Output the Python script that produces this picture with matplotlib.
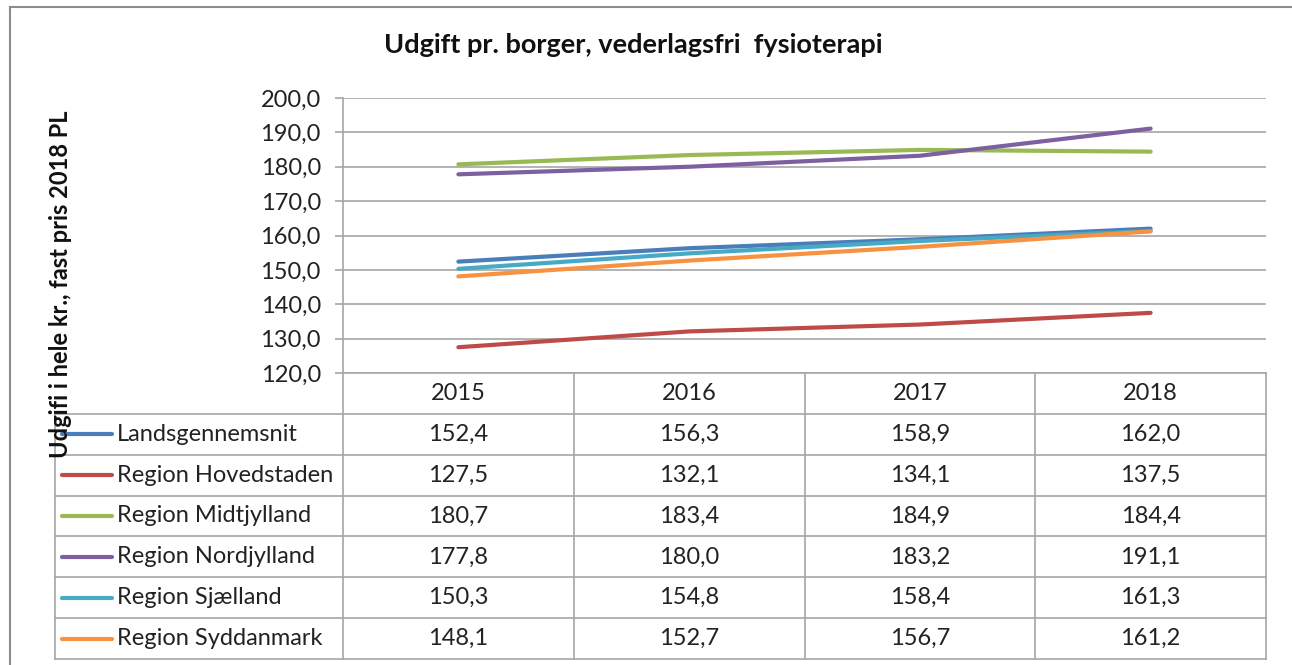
import numpy as np
import matplotlib

matplotlib.use("Agg")
import matplotlib.pyplot as plt

plt.rcParams["font.family"] = ["Lato", "DejaVu Sans"]

years = ["2015", "2016", "2017", "2018"]
regions = [
    "Landsgennemsnit",
    "Region Hovedstaden",
    "Region Midtjylland",
    "Region Nordjylland",
    "Region Sjælland",
    "Region Syddanmark",
]
landsgennemsnit = [152.4, 156.3, 158.9, 162.0]
hovedstaden = [127.5, 132.1, 134.1, 137.5]
midtjylland = [180.7, 183.4, 184.9, 184.4]
nordjylland = [177.8, 180.0, 183.2, 191.1]
sjaelland = [150.3, 154.8, 158.4, 161.3]
syddanmark = [148.1, 152.7, 156.7, 161.2]
series = [landsgennemsnit, hovedstaden, midtjylland, nordjylland, sjaelland, syddanmark]
colors = ["#4a7ebb", "#be4b48", "#98b954", "#7d60a0", "#46aac5", "#f69240"]

W, H = 1292, 665
grid_col = "#a6a6a6"
txt_col = "#222222"


def fmt(v):
    return f"{v:.1f}".replace(".", ",")


fig = plt.figure(figsize=(W / 100, H / 100), dpi=100)

# pixel overlay for frame + data table
ov = fig.add_axes([0, 0, 1, 1])
ov.set_xlim(0, W)
ov.set_ylim(H, 0)
ov.axis("off")

# plot area
px_left, px_right, px_top, px_bottom = 343, 1266, 98, 373
ax = fig.add_axes([px_left / W, 1 - px_bottom / H, (px_right - px_left) / W, (px_bottom - px_top) / H])
x = np.arange(len(years))
for vals, c in zip(series, colors):
    ax.plot(x, vals, color=c, lw=3.0, solid_capstyle="round")
ax.set_xlim(-0.5, len(years) - 0.5)
ax.set_ylim(120, 200)
ticks = np.arange(120, 201, 10)
ax.set_yticks(ticks)
ax.set_yticklabels([fmt(v) for v in ticks], fontsize=17, color=txt_col)
ax.set_xticks([])
ax.yaxis.grid(True, color=grid_col, lw=1.2)
ax.set_axisbelow(True)
ax.tick_params(axis="y", length=6, color=grid_col, width=1.2, pad=10)
for s in ["top", "right", "bottom"]:
    ax.spines[s].set_visible(False)
ax.spines["left"].set_color(grid_col)
ax.spines["left"].set_linewidth(1.2)
ax.patch.set_alpha(0)

# outer frame (top and left edges visible)
ov.plot([10, W], [7, 7], color="#8c8c8c", lw=1.5)
ov.plot([10, 10], [7, H], color="#8c8c8c", lw=1.5)

# data table
col_edges = np.linspace(px_left, px_right, len(years) + 1)
row_edges = np.linspace(px_bottom, 659, len(regions) + 2)
label_left = 55
lk = dict(color=grid_col, lw=1.2)
for yy in row_edges[1:]:
    ov.plot([label_left, px_right], [yy, yy], **lk)
ov.plot([px_left, px_right], [row_edges[0], row_edges[0]], **lk)
ov.plot([label_left, label_left], [row_edges[1], row_edges[-1]], **lk)
for xx in col_edges:
    ov.plot([xx, xx], [row_edges[0], row_edges[-1]], **lk)

col_mid = (col_edges[:-1] + col_edges[1:]) / 2
row_mid = (row_edges[:-1] + row_edges[1:]) / 2
for xm, yr in zip(col_mid, years):
    ov.text(xm, row_mid[0], yr, ha="center", va="center", fontsize=17, color=txt_col)
for i, (name, vals, c) in enumerate(zip(regions, series, colors)):
    ym = row_mid[i + 1]
    ov.plot([62, 112], [ym, ym], color=c, lw=3.0, solid_capstyle="round")
    ov.text(117, ym, name, ha="left", va="center", fontsize=17, color=txt_col)
    for xm, v in zip(col_mid, vals):
        ov.text(xm, ym, fmt(v), ha="center", va="center", fontsize=17, color=txt_col)

fig.text(633 / W, 1 - 45 / H, "Udgift pr. borger, vederlagsfri  fysioterapi",
         ha="center", va="center", fontsize=19.5, fontweight="bold", color="#111111")
fig.text(61 / W, 1 - 284 / H, "Udgifi i hele kr., fast pris 2018 PL", rotation=90,
         ha="center", va="center", fontsize=17, fontweight="bold", color="#111111")

fig.savefig("out.png", dpi=100)
